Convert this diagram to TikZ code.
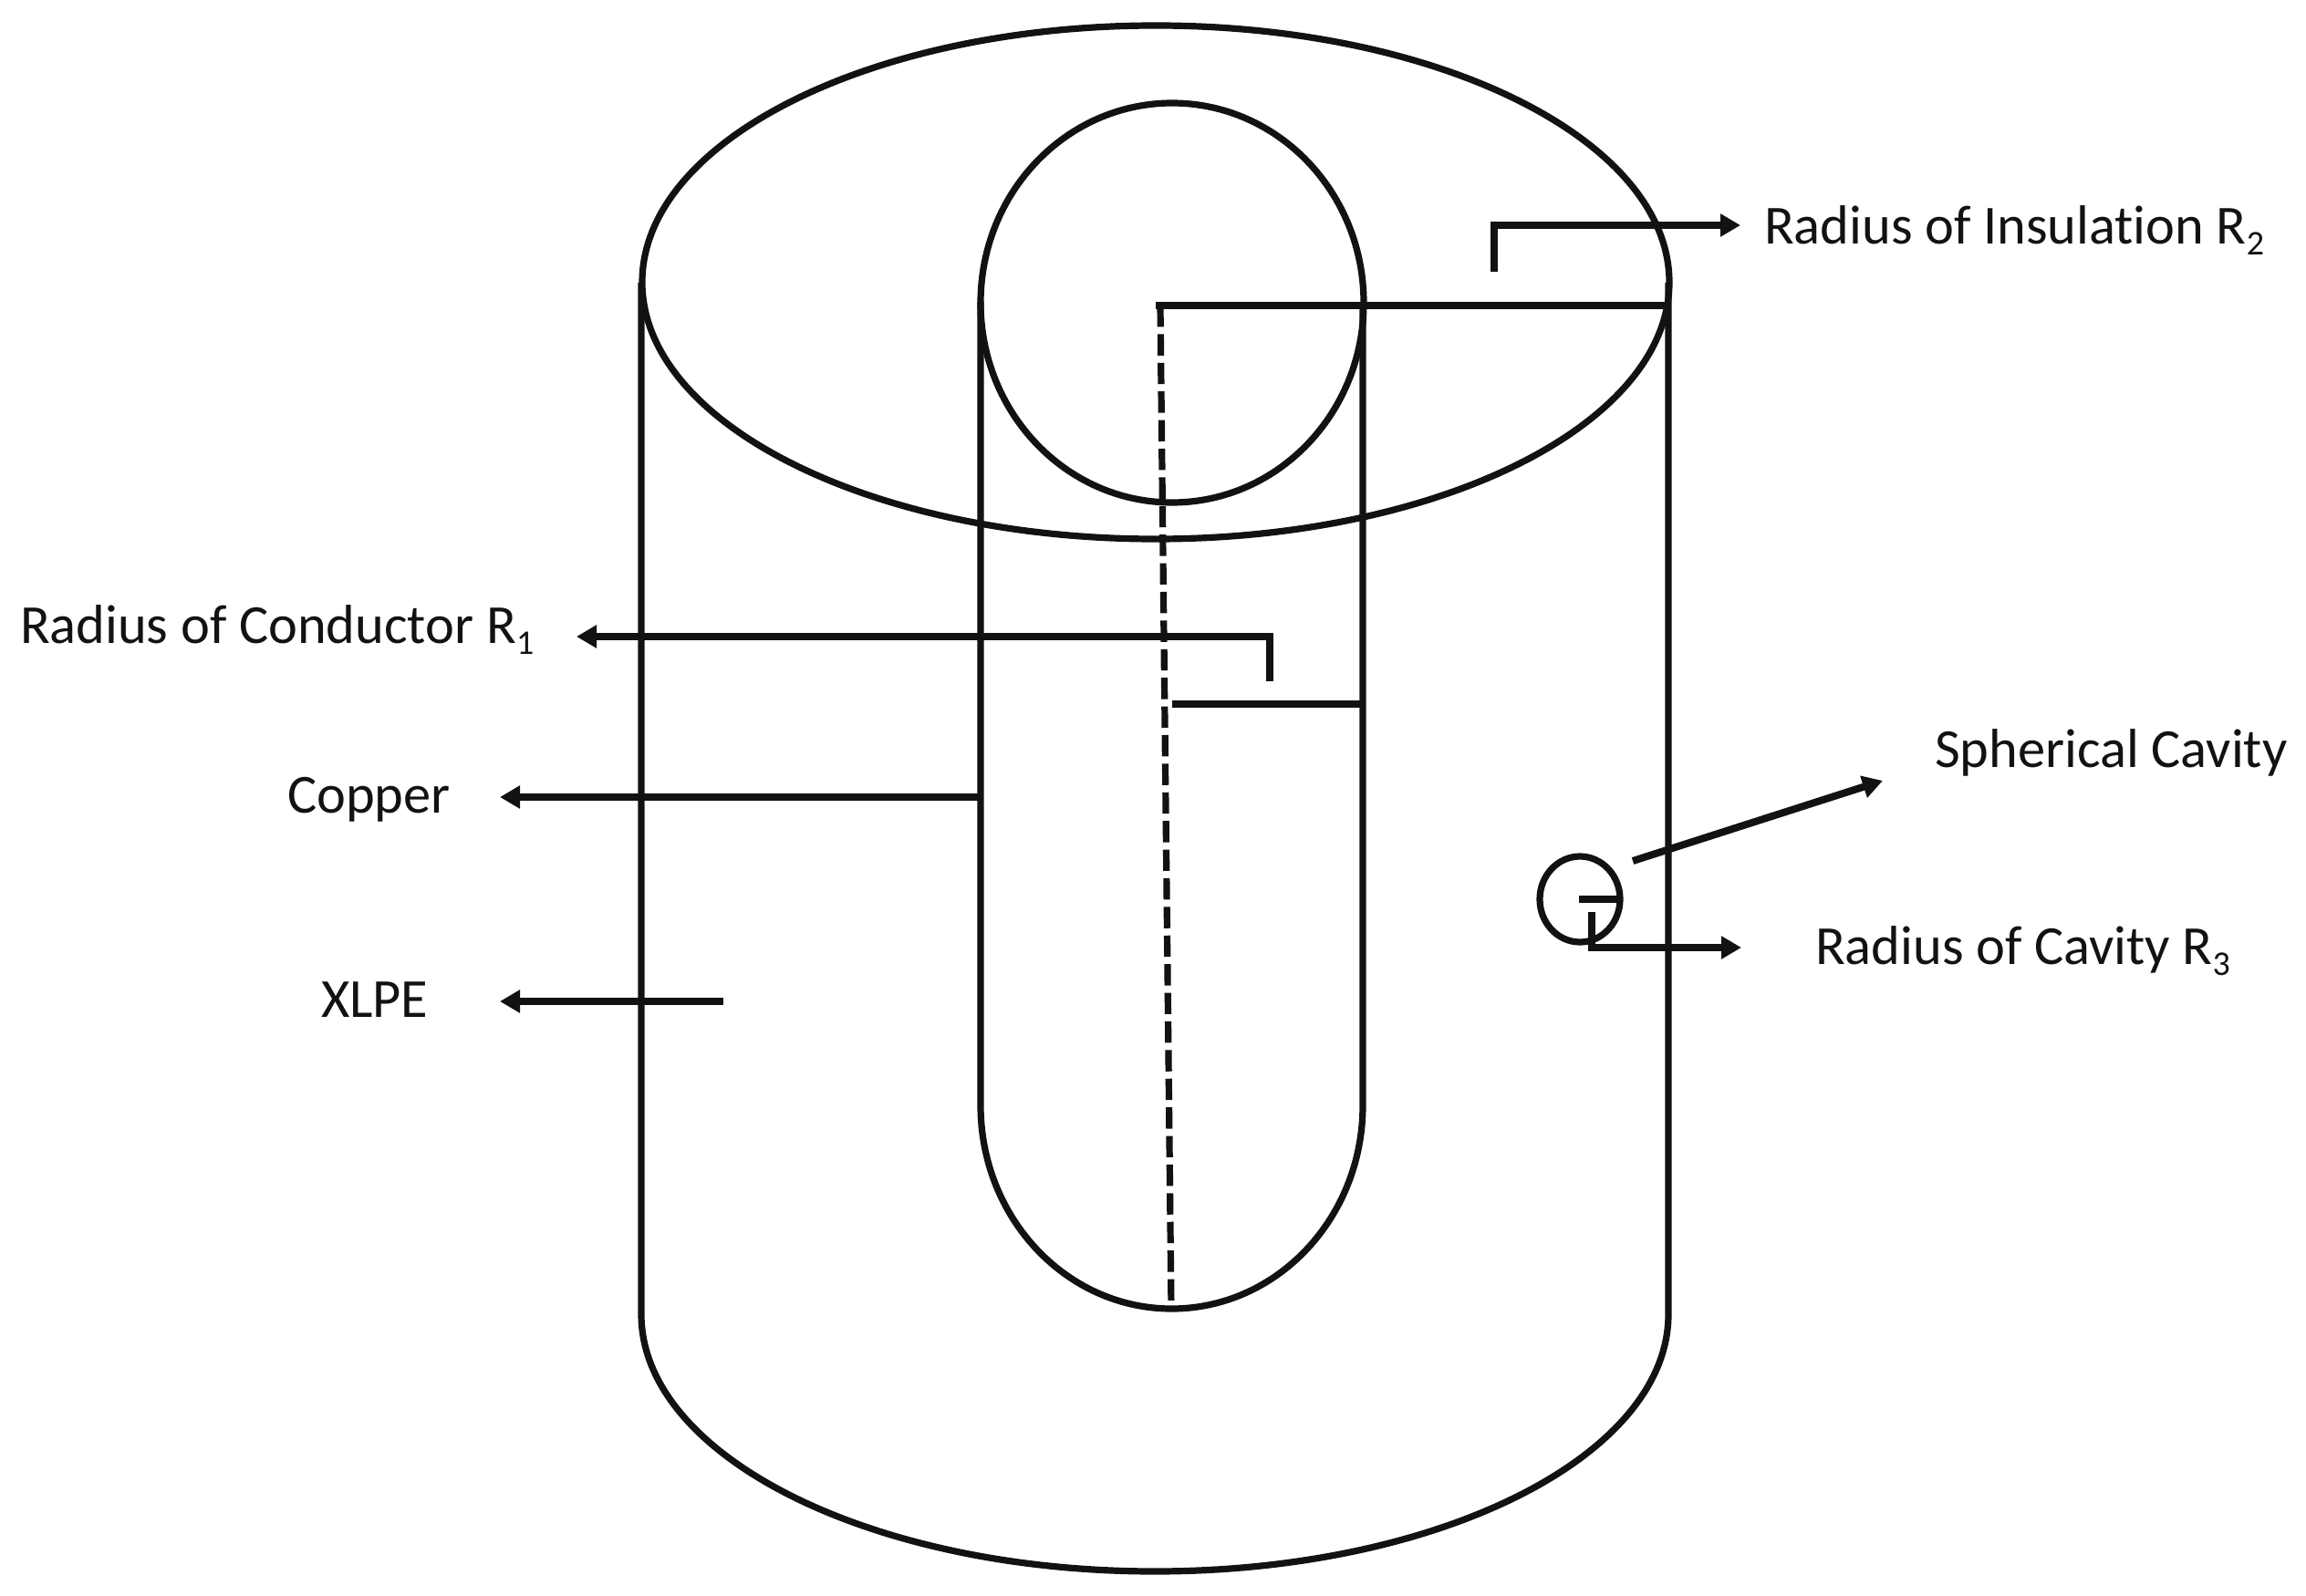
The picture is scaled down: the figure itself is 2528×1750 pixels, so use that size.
\documentclass[tikz,border=0pt]{standalone}
\usepackage{fontspec}
\setmainfont[Ligatures=NoCommon]{Carlito}
\usetikzlibrary{arrows.meta}
\newcommand{\subidx}[1]{\raisebox{-0.2em}{\fontsize{19}{20}\selectfont #1}}
\tikzset{
  x=0.5pt,y=-0.5pt,
  body/.style={line width=3.6pt,draw=black!93},
  lead/.style={line width=4pt,draw=black!93,-{Triangle[length=11pt,width=12pt]}},
  plainlead/.style={line width=4pt,draw=black!93},
  lab/.style={anchor=base west,inner sep=0pt,outer sep=0pt,font=\fontsize{30.2}{34}\selectfont,text=black!93},
}
\begin{document}
\begin{tikzpicture}
\useasboundingbox (0,0) rectangle (2528,1750);
% outer cylinder
\coordinate (otl) at (703,310);
\coordinate (otr) at (1829,310);
\coordinate (obl) at (703,1441);
\coordinate (obr) at (1829,1441);
\draw[body] (1267,309.5) ellipse [x radius=563,y radius=281.5];
\draw[body] (otl) -- (obl) arc[start angle=180,end angle=0,x radius=563,y radius=282] -- (otr);
% inner cylinder
\coordinate (itl) at (1075,331);
\coordinate (itr) at (1494,331);
\coordinate (ibl) at (1075,1212);
\coordinate (ibr) at (1494,1212);
\draw[body] (1285,332) ellipse [x radius=210,y radius=219];
\draw[body] (itl) -- (ibl) arc[start angle=180,end angle=0,x radius=209.5,y radius=223] -- (itr);
% axis and radius lines
\coordinate (axtop) at (1272,335);
\coordinate (axleft) at (1267,335);
\coordinate (axbot) at (1284,1435);
\coordinate (r2end) at (1828,335);
\draw[plainlead] (axleft) -- (r2end);
\draw[body,dash pattern=on 11.7pt off 4pt] (axtop) -- (axbot);
\coordinate (r1a) at (1285,772);
\coordinate (r1b) at (1494,772);
\draw[body] (r1a) -- (r1b);
% labels
\node[lab] (lr2) at (1934,267) {Radius of Insulation R\subidx{2}};
\node[lab] (lr1) at (22,705) {Radius of Conductor R\subidx{1}};
\node[lab] (lcu) at (315,891) {Copper};
\node[lab] (lxl) at (352,1115) {XLPE};
\node[lab] (lsc) at (2121,841) {Spherical Cavity};
\node[lab] (lr3) at (1990,1057) {Radius of Cavity R\subidx{3}};
% leaders
\coordinate (a2s) at (1638,298);
\coordinate (a2c) at (1638,247);
\coordinate (a2t) at (1908,247);
\draw[lead] (a2s) -- (a2c) -- (a2t);
\coordinate (a1s) at (1392,747);
\coordinate (a1c) at (1392,698);
\coordinate (a1t) at (632,698);
\draw[lead] (a1s) -- (a1c) -- (a1t);
\coordinate (cus) at (1075,874);
\coordinate (cut) at (548,874);
\draw[lead] (cus) -- (cut);
\coordinate (xls) at (793,1098);
\coordinate (xlt) at (548,1098);
\draw[lead] (xls) -- (xlt);
% cavity
\coordinate (cavc) at (1732,986);
\draw[body] (cavc) ellipse [x radius=44,y radius=47];
\coordinate (cavr) at (1776,986);
\coordinate (cavi) at (1731,986);
\draw[plainlead] (cavi) -- (cavr);
\coordinate (scs) at (1790,944);
\coordinate (sct) at (2064,856);
\draw[lead] (scs) -- (sct);
\coordinate (r3s) at (1745,1000);
\coordinate (r3c) at (1745,1039);
\coordinate (r3t) at (1909,1039);
\draw[lead] (r3s) -- (r3c) -- (r3t);
\end{tikzpicture}
\end{document}
